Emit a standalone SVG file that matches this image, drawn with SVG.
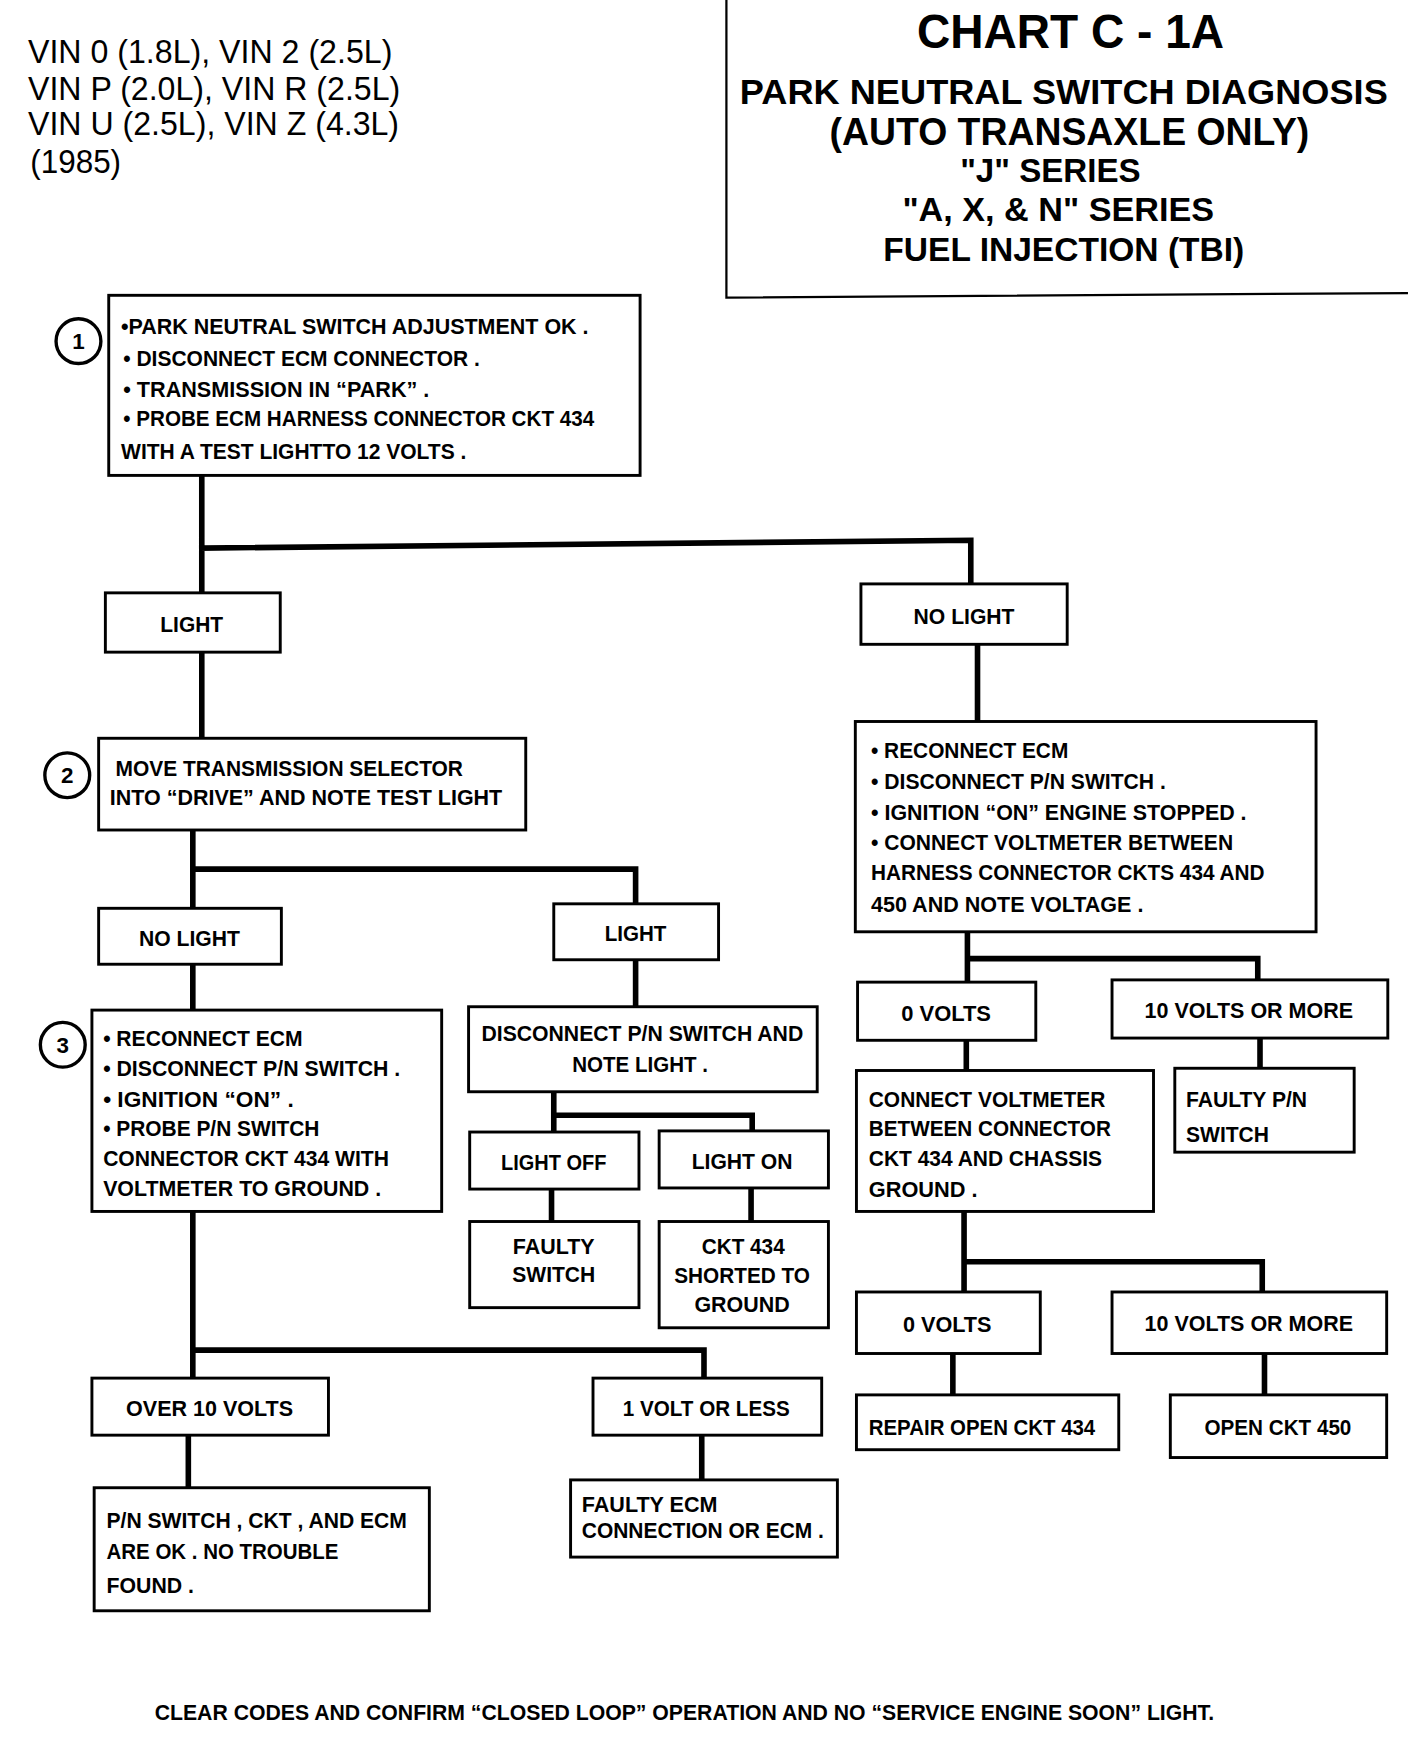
<svg xmlns="http://www.w3.org/2000/svg" width="1408" height="1754" viewBox="0 0 1408 1754">
<style>
.bx{fill:#fff;stroke:#000;stroke-width:2.6}
.cn{fill:none;stroke:#000;stroke-width:5;stroke-linecap:square;stroke-linejoin:miter}
.t{font-family:"Liberation Sans",Arial,sans-serif;font-weight:bold;font-size:20px;fill:#000}
.c{text-anchor:middle}
.vin{font-family:"Liberation Sans",Arial,sans-serif;font-size:29px;fill:#000}
.h1{font-family:"Liberation Sans",Arial,sans-serif;font-weight:bold;fill:#000;text-anchor:middle}
.ci{fill:#fff;stroke:#000;stroke-width:3}
</style>
<rect width="1408" height="1754" fill="#fff"/>
<g transform="scale(1.121 1.1186)">
<g id="header">
<text class="vin" x="25" y="56" textLength="325" lengthAdjust="spacingAndGlyphs">VIN 0 (1.8L), VIN 2 (2.5L)</text>
<text class="vin" x="25" y="89" textLength="332" lengthAdjust="spacingAndGlyphs">VIN P (2.0L), VIN R (2.5L)</text>
<text class="vin" x="25" y="121" textLength="331" lengthAdjust="spacingAndGlyphs">VIN U (2.5L), VIN Z (4.3L)</text>
<text class="vin" x="27" y="155" textLength="81" lengthAdjust="spacingAndGlyphs">(1985)</text>
</g>
<g id="title">
<path d="M648,0 V266 L1256,262" fill="none" stroke="#000" stroke-width="2"/>
<text class="h1" x="955" y="43" font-size="43" textLength="274" lengthAdjust="spacingAndGlyphs">CHART C - 1A</text>
<text class="h1" x="949" y="93" font-size="32" textLength="578" lengthAdjust="spacingAndGlyphs">PARK NEUTRAL SWITCH DIAGNOSIS</text>
<text class="h1" x="954" y="130" font-size="35" textLength="428" lengthAdjust="spacingAndGlyphs">(AUTO TRANSAXLE ONLY)</text>
<text class="h1" x="937" y="163" font-size="30" textLength="161" lengthAdjust="spacingAndGlyphs">"J" SERIES</text>
<text class="h1" x="944" y="198" font-size="30" textLength="278" lengthAdjust="spacingAndGlyphs">"A, X, &amp; N"  SERIES</text>
<text class="h1" x="949" y="233" font-size="30" textLength="322" lengthAdjust="spacingAndGlyphs">FUEL INJECTION (TBI)</text>
</g>
<g id="connectors">
<path class="cn" d="M180,425 V530 M180,490 L866,483 V522"/>
<path class="cn" d="M180,583 V660"/>
<path class="cn" d="M872,576 V645"/>
<path class="cn" d="M172,742 V812 M172,777 H567 V808"/>
<path class="cn" d="M172,862 V903"/>
<path class="cn" d="M567,858 V900"/>
<path class="cn" d="M494,976 V1012 M494,997 H671 V1011"/>
<path class="cn" d="M492,1063 V1092"/>
<path class="cn" d="M670,1062 V1092"/>
<path class="cn" d="M172,1083 V1232 M172,1207 H628 V1232"/>
<path class="cn" d="M168,1283 V1330"/>
<path class="cn" d="M626,1283 V1323"/>
<path class="cn" d="M863,833 V878 M863,857 H1122 V876"/>
<path class="cn" d="M862,930 V957"/>
<path class="cn" d="M1124,928 V955"/>
<path class="cn" d="M860,1083 V1155 M860,1128 H1126 V1155"/>
<path class="cn" d="M850,1210 V1247"/>
<path class="cn" d="M1128,1210 V1247"/>
</g>
<g id="step1">
<rect class="bx" x="97" y="264" width="474" height="161"/>
<circle class="ci" cx="70" cy="305" r="20"/>
<text class="t c" x="70" y="312">1</text>
<text class="t" x="108" y="299" textLength="417" lengthAdjust="spacingAndGlyphs">•PARK NEUTRAL  SWITCH ADJUSTMENT OK .</text>
<text class="t" x="110" y="327" textLength="318" lengthAdjust="spacingAndGlyphs">• DISCONNECT ECM CONNECTOR .</text>
<text class="t" x="110" y="355" textLength="273" lengthAdjust="spacingAndGlyphs">• TRANSMISSION IN “PARK” .</text>
<text class="t" x="110" y="381" textLength="420" lengthAdjust="spacingAndGlyphs">• PROBE ECM HARNESS CONNECTOR CKT 434</text>
<text class="t" x="108" y="410" textLength="308" lengthAdjust="spacingAndGlyphs">WITH A TEST LIGHTTO 12 VOLTS .</text>
</g>
<g id="light1">
<rect class="bx" x="94" y="530" width="156" height="53"/>
<text class="t c" x="171" y="565" textLength="56" lengthAdjust="spacingAndGlyphs">LIGHT</text>
</g>
<g id="nolight1">
<rect class="bx" x="768" y="522" width="184" height="54"/>
<text class="t c" x="860" y="558" textLength="90" lengthAdjust="spacingAndGlyphs">NO LIGHT</text>
</g>
<g id="step2">
<rect class="bx" x="88" y="660" width="381" height="82"/>
<circle class="ci" cx="60" cy="693" r="20"/>
<text class="t c" x="60" y="700">2</text>
<text class="t" x="103" y="694" textLength="310" lengthAdjust="spacingAndGlyphs">MOVE TRANSMISSION SELECTOR</text>
<text class="t" x="98" y="720" textLength="350" lengthAdjust="spacingAndGlyphs">INTO “DRIVE” AND NOTE  TEST LIGHT</text>
</g>
<g id="nolight2">
<rect class="bx" x="88" y="812" width="163" height="50"/>
<text class="t c" x="169" y="846" textLength="90" lengthAdjust="spacingAndGlyphs">NO LIGHT</text>
</g>
<g id="light2">
<rect class="bx" x="494" y="808" width="147" height="50"/>
<text class="t c" x="567" y="841" textLength="55" lengthAdjust="spacingAndGlyphs">LIGHT</text>
</g>
<g id="step3">
<rect class="bx" x="82" y="903" width="312" height="180"/>
<circle class="ci" cx="56" cy="934" r="20"/>
<text class="t c" x="56" y="941">3</text>
<text class="t" x="92" y="935" textLength="178" lengthAdjust="spacingAndGlyphs">• RECONNECT ECM</text>
<text class="t" x="92" y="962" textLength="265" lengthAdjust="spacingAndGlyphs">• DISCONNECT P/N SWITCH .</text>
<text class="t" x="92" y="990" textLength="170" lengthAdjust="spacingAndGlyphs">• IGNITION “ON” .</text>
<text class="t" x="92" y="1016" textLength="193" lengthAdjust="spacingAndGlyphs">• PROBE P/N SWITCH</text>
<text class="t" x="92" y="1042" textLength="255" lengthAdjust="spacingAndGlyphs">CONNECTOR CKT 434 WITH</text>
<text class="t" x="92" y="1069" textLength="248" lengthAdjust="spacingAndGlyphs">VOLTMETER TO GROUND .</text>
</g>
<g id="disconnect">
<rect class="bx" x="418" y="900" width="311" height="76"/>
<text class="t c" x="573" y="931" textLength="287" lengthAdjust="spacingAndGlyphs">DISCONNECT P/N SWITCH AND</text>
<text class="t c" x="571" y="958" textLength="121" lengthAdjust="spacingAndGlyphs">NOTE LIGHT .</text>
</g>
<g id="lightoff">
<rect class="bx" x="419" y="1012" width="151" height="51"/>
<text class="t c" x="494" y="1046" textLength="94" lengthAdjust="spacingAndGlyphs">LIGHT OFF</text>
</g>
<g id="lighton">
<rect class="bx" x="588" y="1011" width="151" height="51"/>
<text class="t c" x="662" y="1045" textLength="90" lengthAdjust="spacingAndGlyphs">LIGHT ON</text>
</g>
<g id="faultyswitch">
<rect class="bx" x="419" y="1092" width="151" height="77"/>
<text class="t c" x="494" y="1121" textLength="73" lengthAdjust="spacingAndGlyphs">FAULTY</text>
<text class="t c" x="494" y="1146" textLength="74" lengthAdjust="spacingAndGlyphs">SWITCH</text>
</g>
<g id="shorted">
<rect class="bx" x="588" y="1092" width="151" height="95"/>
<text class="t c" x="663" y="1121" textLength="74" lengthAdjust="spacingAndGlyphs">CKT 434</text>
<text class="t c" x="662" y="1147" textLength="121" lengthAdjust="spacingAndGlyphs">SHORTED TO</text>
<text class="t c" x="662" y="1173" textLength="85" lengthAdjust="spacingAndGlyphs">GROUND</text>
</g>
<g id="over10">
<rect class="bx" x="82" y="1232" width="211" height="51"/>
<text class="t c" x="187" y="1266" textLength="149" lengthAdjust="spacingAndGlyphs">OVER 10  VOLTS</text>
</g>
<g id="onevolt">
<rect class="bx" x="529" y="1232" width="204" height="51"/>
<text class="t c" x="630" y="1266" textLength="149" lengthAdjust="spacingAndGlyphs">1  VOLT OR LESS</text>
</g>
<g id="pnok">
<rect class="bx" x="84" y="1330" width="299" height="110"/>
<text class="t" x="95" y="1366" textLength="268" lengthAdjust="spacingAndGlyphs">P/N SWITCH , CKT , AND ECM</text>
<text class="t" x="95" y="1394" textLength="207" lengthAdjust="spacingAndGlyphs">ARE OK . NO TROUBLE</text>
<text class="t" x="95" y="1424" textLength="78" lengthAdjust="spacingAndGlyphs">FOUND .</text>
</g>
<g id="faultyecm">
<rect class="bx" x="509" y="1323" width="238" height="69"/>
<text class="t" x="519" y="1352" textLength="121" lengthAdjust="spacingAndGlyphs">FAULTY ECM</text>
<text class="t" x="519" y="1375" textLength="216" lengthAdjust="spacingAndGlyphs">CONNECTION OR ECM .</text>
</g>
<g id="right1">
<rect class="bx" x="763" y="645" width="411" height="188"/>
<text class="t" x="777" y="678" textLength="176" lengthAdjust="spacingAndGlyphs">• RECONNECT ECM</text>
<text class="t" x="777" y="705" textLength="263" lengthAdjust="spacingAndGlyphs">• DISCONNECT P/N SWITCH .</text>
<text class="t" x="777" y="733" textLength="335" lengthAdjust="spacingAndGlyphs">• IGNITION “ON” ENGINE STOPPED .</text>
<text class="t" x="777" y="760" textLength="323" lengthAdjust="spacingAndGlyphs">• CONNECT VOLTMETER BETWEEN</text>
<text class="t" x="777" y="787" textLength="351" lengthAdjust="spacingAndGlyphs">HARNESS CONNECTOR CKTS 434 AND</text>
<text class="t" x="777" y="815" textLength="243" lengthAdjust="spacingAndGlyphs">450 AND NOTE VOLTAGE .</text>
</g>
<g id="zero1">
<rect class="bx" x="765" y="878" width="159" height="52"/>
<text class="t c" x="844" y="913" textLength="80" lengthAdjust="spacingAndGlyphs">0  VOLTS</text>
</g>
<g id="ten1">
<rect class="bx" x="992" y="876" width="246" height="52"/>
<text class="t c" x="1114" y="910" textLength="186" lengthAdjust="spacingAndGlyphs">10  VOLTS OR MORE</text>
</g>
<g id="connectvm">
<rect class="bx" x="764" y="957" width="265" height="126"/>
<text class="t" x="775" y="990" textLength="211" lengthAdjust="spacingAndGlyphs">CONNECT VOLTMETER</text>
<text class="t" x="775" y="1016" textLength="216" lengthAdjust="spacingAndGlyphs">BETWEEN CONNECTOR</text>
<text class="t" x="775" y="1042" textLength="208" lengthAdjust="spacingAndGlyphs">CKT 434 AND CHASSIS</text>
<text class="t" x="775" y="1070" textLength="97" lengthAdjust="spacingAndGlyphs">GROUND .</text>
</g>
<g id="faultypn">
<rect class="bx" x="1048" y="955" width="160" height="75"/>
<text class="t" x="1058" y="990" textLength="108" lengthAdjust="spacingAndGlyphs">FAULTY P/N</text>
<text class="t" x="1058" y="1021" textLength="74" lengthAdjust="spacingAndGlyphs">SWITCH</text>
</g>
<g id="zero2">
<rect class="bx" x="764" y="1155" width="164" height="55"/>
<text class="t c" x="845" y="1191" textLength="79" lengthAdjust="spacingAndGlyphs">0  VOLTS</text>
</g>
<g id="ten2">
<rect class="bx" x="992" y="1155" width="245" height="55"/>
<text class="t c" x="1114" y="1190" textLength="186" lengthAdjust="spacingAndGlyphs">10  VOLTS OR MORE</text>
</g>
<g id="repair434">
<rect class="bx" x="764" y="1247" width="234" height="49"/>
<text class="t" x="775" y="1283" textLength="202" lengthAdjust="spacingAndGlyphs">REPAIR OPEN CKT 434</text>
</g>
<g id="open450">
<rect class="bx" x="1044" y="1247" width="193" height="56"/>
<text class="t c" x="1140" y="1283" textLength="131" lengthAdjust="spacingAndGlyphs">OPEN CKT 450</text>
</g>
<g id="footer">
<text class="t" x="138" y="1538" textLength="945" lengthAdjust="spacingAndGlyphs">CLEAR CODES AND CONFIRM  “CLOSED LOOP” OPERATION AND NO “SERVICE ENGINE SOON” LIGHT.</text>
</g>
</g>
</svg>
